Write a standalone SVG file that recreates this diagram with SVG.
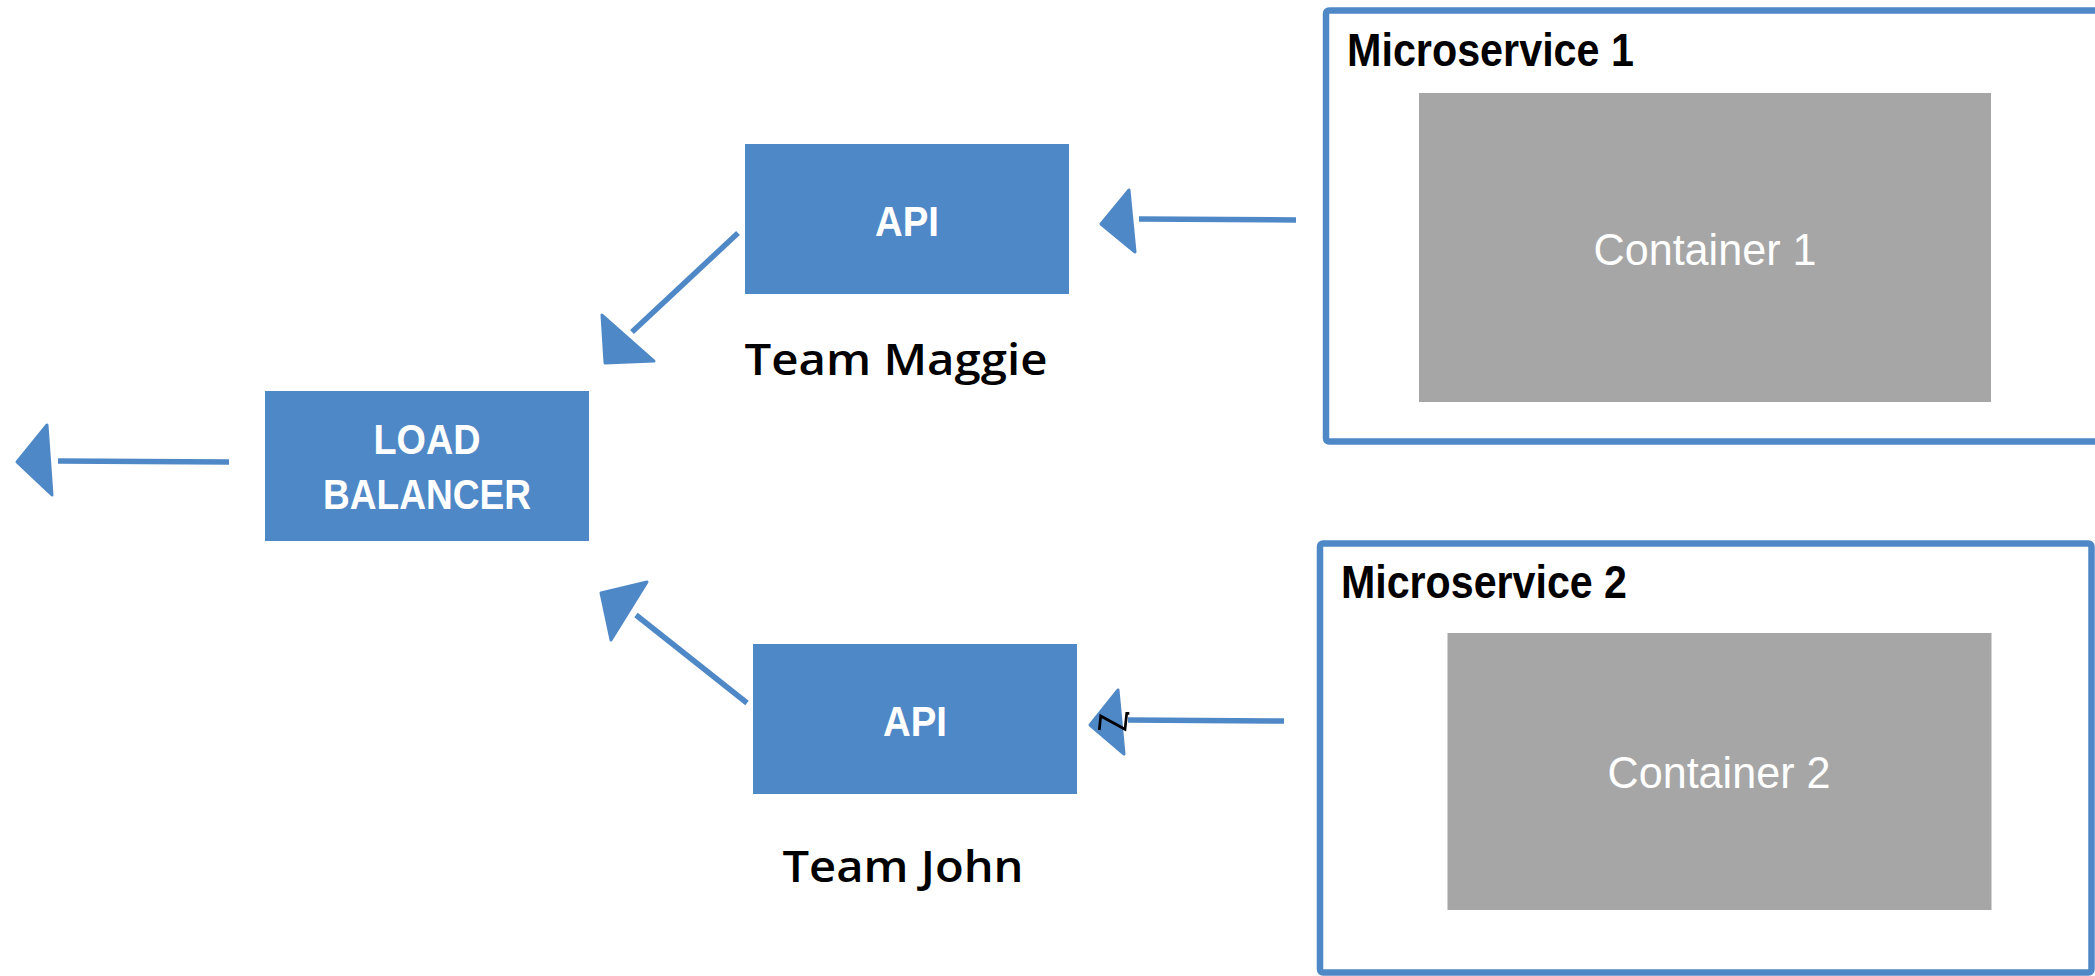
<svg xmlns="http://www.w3.org/2000/svg" width="2095" height="976" viewBox="0 0 2095 976">
<style>
.box{fill:#4F88C6}
.frame{fill:none;stroke:#4F88C6;stroke-width:6.5}
.cont{fill:#A6A6A6}
.wt{fill:#FFFFFF;font-family:"Liberation Sans",Arial,sans-serif;font-weight:bold;font-size:42px;text-anchor:middle}
.ct{fill:#FFFFFF;font-family:"Liberation Sans",Arial,sans-serif;font-size:44px;text-anchor:middle}
.ms{fill:#000000;font-family:"Liberation Sans",Arial,sans-serif;font-weight:bold;font-size:46px}
.team{fill:#000000;font-family:"Open Sans","Noto Sans",sans-serif;font-weight:600;font-size:43px;text-anchor:middle}
.ln{stroke:#4F88C6;stroke-width:5.5;fill:none}
.hd{fill:#4F88C6;stroke:#4F88C6;stroke-width:3;stroke-linejoin:round}
</style>
<rect width="2095" height="976" fill="#FFFFFF"/>
<g id="microservice1">
<rect class="frame" x="1326" y="10.5" width="790" height="431" rx="3"/>
<text class="ms" x="1347" y="66" textLength="287" lengthAdjust="spacingAndGlyphs">Microservice 1</text>
</g>
<g id="container1">
<rect class="cont" x="1419" y="93" width="572" height="309"/>
<text class="ct" x="1705" y="265" textLength="223" lengthAdjust="spacingAndGlyphs">Container 1</text>
</g>
<g id="microservice2">
<rect class="frame" x="1320" y="543.5" width="771.5" height="429" rx="3"/>
<text class="ms" x="1341" y="598" textLength="286" lengthAdjust="spacingAndGlyphs">Microservice 2</text>
</g>
<g id="container2">
<rect class="cont" x="1447.5" y="633" width="544" height="277"/>
<text class="ct" x="1719" y="788" textLength="223" lengthAdjust="spacingAndGlyphs">Container 2</text>
</g>
<g id="api1">
<rect class="box" x="745" y="144" width="324" height="150"/>
<text class="wt" x="907" y="236" textLength="64" lengthAdjust="spacingAndGlyphs">API</text>
</g>
<g id="team-maggie">
<text class="team" x="896" y="375" textLength="303" lengthAdjust="spacingAndGlyphs">Team Maggie</text>
</g>
<g id="api2">
<rect class="box" x="753" y="644" width="324" height="150"/>
<text class="wt" x="915" y="736" textLength="64" lengthAdjust="spacingAndGlyphs">API</text>
</g>
<g id="team-john">
<text class="team" x="903" y="882" textLength="241" lengthAdjust="spacingAndGlyphs">Team John</text>
</g>
<g id="load-balancer">
<rect class="box" x="265" y="391" width="324" height="150"/>
<text class="wt" x="427" y="454" textLength="107" lengthAdjust="spacingAndGlyphs">LOAD</text>
<text class="wt" x="427" y="509" textLength="208" lengthAdjust="spacingAndGlyphs">BALANCER</text>
</g>
<g id="connectors">
<line class="ln" x1="1296" y1="220" x2="1139" y2="219"/>
<polygon class="hd" points="1101,224 1129,190 1135,252"/>
<line class="ln" x1="738" y1="233" x2="632" y2="332"/>
<polygon class="hd" points="602,315 605,363 654,361"/>
<line class="ln" x1="229" y1="462" x2="58" y2="461"/>
<polygon class="hd" points="17,462 47,425 52,495"/>
<line class="ln" x1="747" y1="703" x2="636" y2="615"/>
<polygon class="hd" points="601,593 611,640 647,582"/>
<line class="ln" x1="1284" y1="721" x2="1128" y2="720"/>
<polygon class="hd" points="1118,690 1090,725 1124,754"/>
<polyline points="1099.3,730 1100.7,716 1125,729.3 1126.7,713.3 1129.3,713.3" fill="none" stroke="#000000" stroke-width="2.7" stroke-linejoin="miter"/>
</g>
</svg>
